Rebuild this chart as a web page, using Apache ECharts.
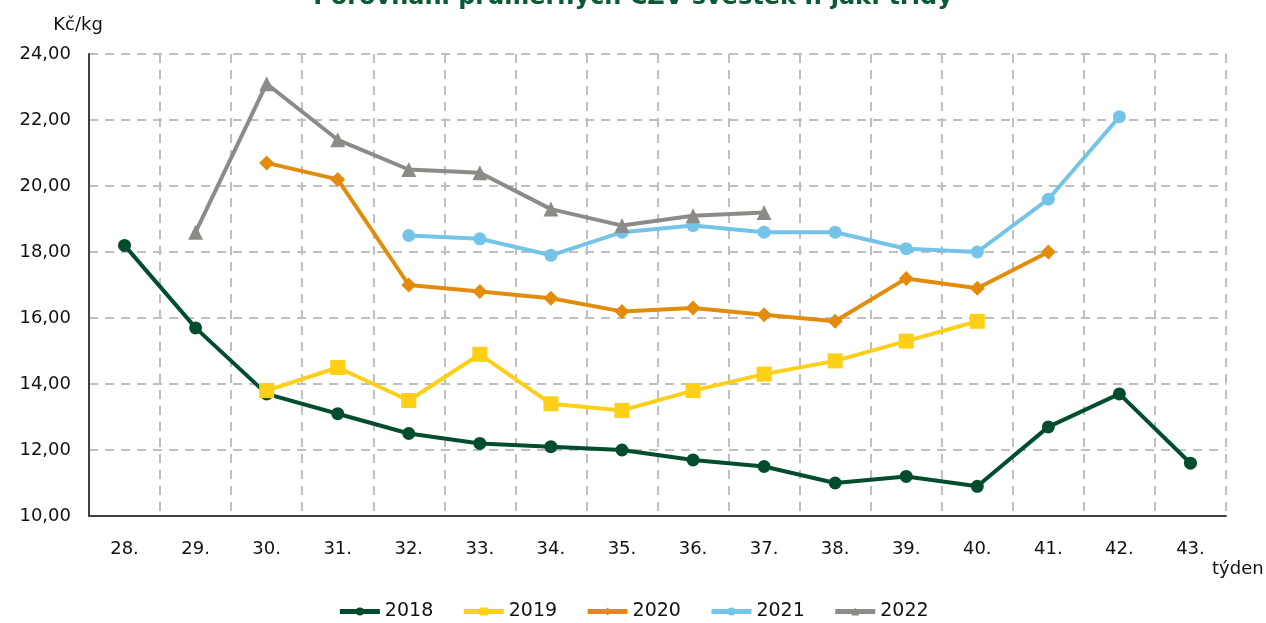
<!DOCTYPE html>
<html>
<head>
<meta charset="utf-8">
<script src="https://cdn.jsdelivr.net/npm/echarts@6/dist/echarts.min.js"></script>
<style>
  html, body { margin: 0; padding: 0; background: #fff; }
  #chart { width: 1266px; height: 623px; }
</style>
</head>
<body>
<div id="chart"></div>
<script>
const weeks = ['28.', '29.', '30.', '31.', '32.', '33.', '34.', '35.', '36.', '37.', '38.', '39.', '40.', '41.', '42.', '43.'];

const y2018 = [18.2, 15.7, 13.7, 13.1, 12.5, 12.2, 12.1, 12.0, 11.7, 11.5, 11.0, 11.2, 10.9, 12.7, 13.7, 11.6];
const y2019 = [null, null, 13.8, 14.5, 13.5, 14.9, 13.4, 13.2, 13.8, 14.3, 14.7, 15.3, 15.9, null, null, null];
const y2020 = [null, null, 20.7, 20.2, 17.0, 16.8, 16.6, 16.2, 16.3, 16.1, 15.9, 17.2, 16.9, 18.0, null, null];
const y2021 = [null, null, null, null, 18.5, 18.4, 17.9, 18.6, 18.8, 18.6, 18.6, 18.1, 18.0, 19.6, 22.1, null];
const y2022 = [null, 18.6, 23.1, 21.4, 20.5, 20.4, 19.3, 18.8, 19.1, 19.2, null, null, null, null, null, null];

const FONT = 'DejaVu Sans';
const TEXT = '#111';
const fmt = (v) => v.toFixed(2).replace('.', ',');

const makeSeries = (name, data, color, symbol, size) => ({
  name,
  type: 'line',
  data,
  symbol,
  symbolSize: size,
  connectNulls: false,
  lineStyle: { color, width: 4 },
  itemStyle: { color },
  emphasis: { disabled: true }
});

const chart = echarts.init(document.getElementById('chart'), null, { renderer: 'canvas' });

chart.setOption({
  animation: false,
  backgroundColor: '#fff',
  textStyle: { fontFamily: FONT },
  title: {
    text: 'Porovnání průměrných CZV švestek I. jak. třídy',
    left: 'center',
    top: -19,
    textStyle: { fontFamily: FONT, fontSize: 24, fontWeight: 'bold', color: '#0b5a36' }
  },
  legend: {
    bottom: -3,
    left: 'center',
    itemWidth: 40,
    itemHeight: 10,
    itemGap: 28,
    lineStyle: { width: 5 },
    textStyle: { fontFamily: FONT, fontSize: 19, color: TEXT },
    data: ['2018', '2019', '2020', '2021', '2022']
  },
  graphic: [{
    type: 'text',
    left: 1212,
    top: 560,
    style: { text: 'týden', font: `18px "${FONT}"`, fill: TEXT }
  }],
  grid: { left: 89, right: 40, top: 54, bottom: 107 },
  xAxis: {
    type: 'category',
    data: weeks,
    boundaryGap: true,
    axisLine: { lineStyle: { color: '#404040', width: 2 } },
    axisTick: { show: false },
    axisLabel: { fontFamily: FONT, fontSize: 18, color: TEXT, margin: 24 },
    splitLine: { show: true, lineStyle: { color: '#bfbfbf', width: 2, type: [9, 7] } }
  },
  yAxis: {
    type: 'value',
    min: 10,
    max: 24,
    interval: 2,
    name: 'Kč/kg',
    nameLocation: 'end',
    nameGap: 20,
    nameTextStyle: { fontFamily: FONT, fontSize: 18, color: TEXT, align: 'center', padding: [0, 0, 0, -22] },
    axisLine: { show: true, lineStyle: { color: '#404040', width: 2 } },
    axisTick: { show: false },
    axisLabel: { fontFamily: FONT, fontSize: 18, color: TEXT, margin: 18, formatter: fmt },
    splitLine: { show: true, lineStyle: { color: '#bfbfbf', width: 2, type: [9, 7] } }
  },
  series: [
    makeSeries('2018', y2018, '#034d2f', 'circle', 13),
    makeSeries('2019', y2019, '#fdd017', 'rect', 15),
    makeSeries('2020', y2020, '#e38c0b', 'diamond', 15),
    makeSeries('2021', y2021, '#74c4e8', 'circle', 13),
    makeSeries('2022', y2022, '#8c8b87', 'triangle', 15)
  ]
});

window.addEventListener('resize', () => chart.resize());
</script>
</body>
</html>
